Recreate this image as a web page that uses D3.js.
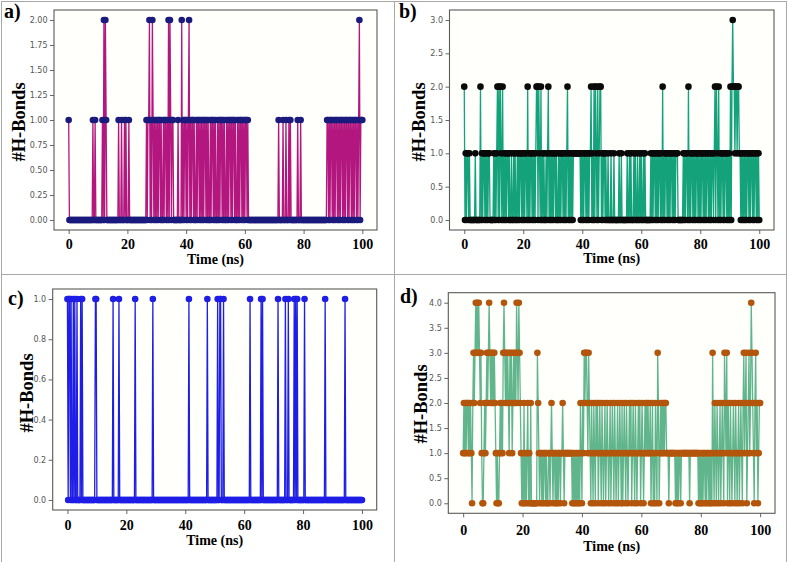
<!DOCTYPE html>
<html><head><meta charset="utf-8">
<script src="https://cdn.jsdelivr.net/npm/d3@7"></script>
<style>html,body{margin:0;padding:0;background:#fff;} svg{display:block;}</style>
</head><body>
<svg id="chart" width="790" height="562"></svg>
<script>
// Time axis: one frame every 0.25 ns from 0 to 100 ns
const timeNs = d3.range(0, 100.0001, 0.25);

// Panel a) number of H-bonds per frame (20 frames = 5 ns per row)
const hbondsA = [
1,0,0,0,0, 0,0,0,0,0, 0,0,0,0,0, 0,0,0,0,0,
0,0,0,0,0, 0,0,0,0,0, 0,0,0,1,0, 0,1,0,0,0,
0,0,0,0,0, 0,1,0,2,0, 2,1,0,0,0, 0,0,0,0,0,
0,0,0,0,0, 0,0,0,1,0, 0,0,1,0,0, 0,1,0,1,0,
0,0,1,0,0, 0,0,0,0,0, 0,0,0,0,0, 0,0,0,0,0,
0,0,0,0,0, 0,1,0,1,1, 2,0,1,0,2, 1,0,1,0,1,
0,1,0,1,1, 0,1,0,0,1, 0,1,1,0,1, 0,2,0,2,1,
0,1,1,0,0, 0,0,0,0,1, 0,0,0,0,2, 0,1,0,1,1,
0,1,0,1,2, 0,1,0,1,1, 0,1,0,0,1, 0,1,1,0,1,
0,1,0,1,0, 1,1,0,1,0, 1,0,0,1,0, 1,1,0,1,0,
1,0,0,1,0, 1,0,1,1,0, 1,0,1,0,0, 1,0,1,0,1,
1,0,1,0,1, 1,0,1,0,0, 1,0,1,0,1, 1,0,1,0,1,
0,1,1,0,1, 0,0,0,0,0, 0,0,0,0,0, 0,0,0,0,0,
0,0,0,0,0, 0,0,0,0,0, 0,0,0,0,0, 0,0,0,0,0,
0,0,0,0,0, 0,1,0,0,0, 0,0,1,0,0, 0,1,0,0,0,
1,0,1,0,0, 0,0,0,0,0, 0,0,1,0,0, 0,1,0,0,0,
0,0,0,0,0, 0,0,0,0,0, 0,0,0,0,0, 0,0,0,0,0,
0,0,0,0,0, 0,0,0,0,0, 0,0,1,1,0, 1,0,1,1,0,
1,0,1,0,1, 1,0,1,0,1, 0,1,1,0,1, 0,1,0,1,1,
0,1,0,1,1, 0,1,0,1,0, 1,1,0,1,0, 1,2,0,1,1,
1];

// Panel b)
const hbondsB = [
2,0,1,0,1, 1,0,1,0,0, 0,0,0,0,0, 1,0,0,0,0,
0,0,2,0,1, 0,1,1,0,1, 0,1,0,1,1, 0,0,0,0,0,
1,0,1,0,1, 2,0,2,0,2, 1,0,2,0,1, 0,1,0,1,1,
0,1,0,0,1, 0,0,1,0,1, 0,0,1,0,1, 0,1,1,0,1,
0,1,0,1,1, 0,2,0,1,0, 1,1,0,1,0, 1,0,1,2,2,
0,2,1,0,2, 0,1,0,1,0, 0,1,0,1,2, 0,1,0,1,0,
1,0,1,1,0, 1,0,0,1,0, 1,0,1,1,0, 1,0,1,0,1,
2,0,1,0,1, 0,1,0,1,1, 1,1,1,1,1, 1,1,1,0,1,
0,1,0,1,1, 0,1,0,1,0, 1,1,2,0,1, 0,2,0,2,1,
0,2,0,1,2, 2,0,1,0,1, 1,0,1,0,0, 1,0,0,0,1,
0,0,0,1,0, 0,0,0,0,0, 1,0,0,1,0, 0,0,0,0,0,
0,1,0,0,1, 0,1,0,0,0, 1,0,1,0,0, 1,0,0,1,0,
1,0,0,1,0, 1,0,0,0,0, 0,0,0,1,0, 1,0,1,1,0,
1,0,1,0,1, 1,0,1,0,2, 0,1,0,1,1, 0,1,0,1,0,
1,1,0,1,0, 1,0,1,1,1, 0,0,0,0,0, 0,0,1,0,1,
0,1,1,0,2, 0,1,0,1,1, 0,1,0,1,0, 1,1,0,1,0,
1,0,1,1,0, 1,0,1,0,1, 1,0,1,0,1, 0,1,1,0,1,
2,0,2,1,0, 2,0,1,0,1, 1,0,1,0,1, 1,0,1,0,1,
0,2,0,2,3, 2,2,1,2,2, 1,2,2,1,1, 0,1,0,1,0,
1,0,1,0,1, 1,0,1,0,1, 1,0,1,0,1, 1,0,1,0,1,
0];

// Panel c)
const hbondsC = [
1,0,1,1,0, 1,0,0,1,0, 1,0,0,1,0, 0,0,0,1,0,
1,0,0,0,0, 0,0,0,0,0, 0,0,0,0,0, 0,0,0,1,1,
0,0,0,0,0, 0,0,0,0,0, 0,0,0,0,0, 0,0,0,0,0,
0,0,1,0,0, 0,0,0,0,0, 1,0,0,0,0, 0,0,0,0,0,
0,0,0,0,0, 0,0,0,0,0, 0,0,1,0,0, 0,0,0,0,0,
0,0,0,0,0, 0,0,0,0,0, 0,0,0,0,0, 0,1,0,0,0,
0,0,0,0,0, 0,0,0,0,0, 0,0,0,0,0, 0,0,0,0,0,
0,0,0,0,0, 0,0,0,0,0, 0,0,0,0,0, 0,0,0,0,0,
0,0,0,0,0, 1,0,0,0,0, 0,0,0,0,0, 0,0,0,0,0,
0,0,0,0,0, 0,0,0,0,0, 1,0,0,0,0, 0,0,0,0,0,
0,0,0,0,1, 0,0,1,1,0, 0,0,1,0,0, 0,0,0,0,0,
0,0,0,0,0, 0,0,0,0,0, 0,0,0,0,0, 0,0,0,0,0,
0,0,0,0,0, 0,0,0,1,0, 0,0,0,0,0, 0,0,0,0,0,
0,0,0,1,0, 1,0,0,0,0, 0,0,0,0,0, 0,0,0,0,0,
0,0,0,0,0, 0,1,0,0,0, 0,0,0,0,0, 0,1,0,0,0,
1,0,0,0,0, 0,0,0,1,0, 1,0,1,0,0, 0,0,0,0,0,
0,0,1,0,0, 0,0,0,0,0, 0,0,0,0,0, 0,0,0,0,0,
0,0,0,0,0, 0,0,0,0,0, 1,0,0,0,0, 0,0,0,0,0,
0,0,0,0,0, 0,0,0,0,0, 0,0,0,0,0, 0,0,1,0,0,
0,0,0,0,0, 0,0,0,0,0, 0,0,0,0,0, 0,0,0,0,0,
0];

// Panel d)
const hbondsD = [
1,2,1,2,1, 2,2,1,2,1, 2,1,0,2,3, 2,3,4,3,4,
3,4,3,2,3, 1,0,0,1,2, 1,2,3,2,3, 4,3,2,3,2,
3,2,3,2,1, 0,1,0,0,1, 2,1,2,1,3, 4,3,2,3,2,
3,2,1,3,2, 3,1,2,3,2, 3,2,4,3,2, 4,3,2,1,0,
1,0,2,0,1, 0,1,2,0,1, 0,2,0,0,0, 0,0,0,0,0,
3,2,1,0,1, 1,0,1,0,1, 1,0,1,0,0, 1,1,0,1,2,
1,0,1,1,0, 1,0,1,0,1, 1,0,1,1,2, 1,0,1,1,1,
1,1,1,1,1, 1,1,0,1,0, 1,0,1,0,1, 0,1,0,2,1,
0,2,1,3,2, 3,3,2,1,3, 2,1,0,2,1, 0,2,1,0,2,
1,2,0,1,2, 1,0,2,1,0, 1,2,0,1,2, 1,0,1,2,0,
1,2,1,0,2, 1,0,1,2,0, 1,2,1,0,2, 0,1,2,1,0,
2,1,0,1,2, 1,2,0,1,2, 1,0,2,1,0, 1,2,1,2,0,
1,2,1,0,1, 2,1,2,1,2, 1,1,2,0,1, 2,0,1,0,2,
1,0,3,2,0, 1,2,1,2,1, 2,1,2,2,1, 1,1,0,1,1,
1,1,1,1,1, 1,0,1,0,1, 0,1,1,0,1, 1,1,1,1,1,
1,1,1,1,1, 0,1,1,1,1, 1,1,1,1,1, 1,1,0,1,0,
1,0,1,0,1, 1,0,1,0,1, 1,0,1,0,1, 0,3,1,0,2,
1,0,2,1,0, 1,2,0,1,2, 1,0,3,2,1, 3,0,2,1,0,
2,1,0,1,2, 1,0,2,1,0, 1,2,0,1,2, 1,0,2,3,1,
2,3,0,1,2, 3,1,2,4,3, 2,1,0,2,3, 1,2,0,1,2,
2];

const xTicks = [0, 20, 40, 60, 80, 100];
const yTicksA = [0, 0.25, 0.5, 0.75, 1, 1.25, 1.5, 1.75, 2];
const yTicksB = [0, 0.5, 1, 1.5, 2, 2.5, 3];
const yTicksC = [0, 0.2, 0.4, 0.6, 0.8, 1];
const yTicksD = [0, 0.5, 1, 1.5, 2, 2.5, 3, 3.5, 4];
const panelLabels = ["a)", "b)", "c)", "d)"];
const xTitle = "Time (ns)";
const yTitle = "#H-Bonds";

const panels = [
  {values: hbondsA, yTicks: yTicksA, yMax: 2, fmt: d3.format(".2f"), label: panelLabels[0],
   fx0: 54, fx1: 377, fy0: 10, fy1: 230, labX: 4, labY: 18, ytX: 25, ytY: 122, xtY: 249, xlY: 264,
   line: "#b3177f", lineOp: 1, marker: "#1b1b7d"},
  {values: hbondsB, yTicks: yTicksB, yMax: 3, fmt: d3.format(".1f"), label: panelLabels[1],
   fx0: 449.5, fx1: 774, fy0: 10, fy1: 230, labX: 399, labY: 18, ytX: 425, ytY: 122, xtY: 249, xlY: 263,
   line: "#13a27a", lineOp: 1, marker: "#0a0a0a"},
  {values: hbondsC, yTicks: yTicksC, yMax: 1, fmt: d3.format(".1f"), label: panelLabels[2],
   fx0: 52.7, fx1: 376.7, fy0: 289, fy1: 510, labX: 8, labY: 305, ytX: 33, ytY: 393, xtY: 530, xlY: 545,
   line: "#1e1ee6", lineOp: 1, marker: "#1e1ee6"},
  {values: hbondsD, yTicks: yTicksD, yMax: 4, fmt: d3.format(".1f"), label: panelLabels[3],
   fx0: 448.3, fx1: 775, fy0: 292.7, fy1: 513.3, labX: 400, labY: 303, ytX: 427, ytY: 404, xtY: 535, xlY: 551,
   line: "#45a878", lineOp: 0.85, marker: "#b3560c"}
];

const svg = d3.select("#chart");
svg.append("rect").attr("width", 790).attr("height", 562).attr("fill", "#fff");

// figure grid borders
const bc = "#a8a8a8";
[[1, 1.5, 787, 1.5], [1.5, 1, 1.5, 562], [786.5, 1, 786.5, 562], [394.5, 1, 394.5, 562], [1, 274.5, 787, 274.5]]
  .forEach(d => svg.append("line").attr("x1", d[0]).attr("y1", d[1]).attr("x2", d[2]).attr("y2", d[3])
    .attr("stroke", bc).attr("stroke-width", 1));

const serif = "'Liberation Serif','Times New Roman',serif";
const bad = [hbondsA, hbondsB, hbondsC, hbondsD].map(a => a.length).filter(n => n !== timeNs.length);
if (bad.length) svg.append("text").attr("x", 300).attr("y", 140).attr("fill", "red").text("LEN " + [hbondsA, hbondsB, hbondsC, hbondsD].map(a => a.length).join(","));

panels.forEach(p => {
  const g = svg.append("g");
  const x = d3.scaleLinear().domain([-5, 105]).range([p.fx0, p.fx1]);
  const y = d3.scaleLinear().domain([-0.05 * p.yMax, 1.05 * p.yMax]).range([p.fy1, p.fy0]);

  g.append("rect").attr("x", p.fx0).attr("y", p.fy0).attr("width", p.fx1 - p.fx0).attr("height", p.fy1 - p.fy0)
    .attr("fill", "#fffffb");

  const clipId = "clip" + p.label[0];
  g.append("clipPath").attr("id", clipId).append("rect")
    .attr("x", p.fx0).attr("y", p.fy0).attr("width", p.fx1 - p.fx0).attr("height", p.fy1 - p.fy0);

  const pts = timeNs.map((t, i) => [t, p.values[i]]);
  const line = d3.line().x(d => x(d[0])).y(d => y(d[1]));
  const plot = g.append("g").attr("clip-path", `url(#${clipId})`);
  plot.append("path").datum(pts).attr("d", line).attr("fill", "none")
    .attr("stroke", p.line).attr("stroke-opacity", p.lineOp).attr("stroke-width", 1.3);
  plot.selectAll("circle").data(pts).join("circle")
    .attr("cx", d => x(d[0])).attr("cy", d => y(d[1])).attr("r", 3.3).attr("fill", p.marker);

  // axes
  const ya = d3.axisLeft(y).tickValues(p.yTicks).tickFormat(p.fmt).tickSize(4).tickPadding(2.5);
  const yg = g.append("g").attr("transform", `translate(${p.fx0},0)`).call(ya);
  yg.select(".domain").remove();
  yg.selectAll(".tick line").attr("stroke", "#555").attr("stroke-width", 0.9);
  yg.selectAll(".tick text").attr("fill", "#555").style("font-family", "'DejaVu Sans',sans-serif").style("font-size", "8px");

  const xa = d3.axisBottom(x).tickValues(xTicks).tickFormat(d3.format("d")).tickSize(4).tickPadding(0);
  const xg = g.append("g").attr("transform", `translate(0,${p.fy1})`).call(xa);
  xg.select(".domain").remove();
  xg.selectAll(".tick line").attr("stroke", "#555").attr("stroke-width", 0.9);
  xg.selectAll(".tick text").attr("fill", "#000").attr("y", null).attr("dy", null)
    .attr("transform", `translate(0,${p.xtY - p.fy1})`)
    .style("font-family", serif).style("font-size", "14px").style("font-weight", "bold");

  g.append("rect").attr("x", p.fx0).attr("y", p.fy0).attr("width", p.fx1 - p.fx0).attr("height", p.fy1 - p.fy0)
    .attr("fill", "none").attr("stroke", "#5a5a5a").attr("stroke-width", 1.1);

  // titles
  g.append("text").attr("x", (x(0) + x(100)) / 2).attr("y", p.xlY).attr("text-anchor", "middle")
    .style("font-family", serif).style("font-size", "14px").style("font-weight", "bold").text(xTitle);
  g.append("text").attr("transform", `translate(${p.ytX},${p.ytY}) rotate(-90)`).attr("text-anchor", "middle")
    .style("font-family", serif).style("font-size", "18.5px").style("font-weight", "bold").text(yTitle);
  g.append("text").attr("x", p.labX).attr("y", p.labY)
    .style("font-family", serif).style("font-size", "20px").style("font-weight", "bold").text(p.label);
});
</script>
</body></html>
